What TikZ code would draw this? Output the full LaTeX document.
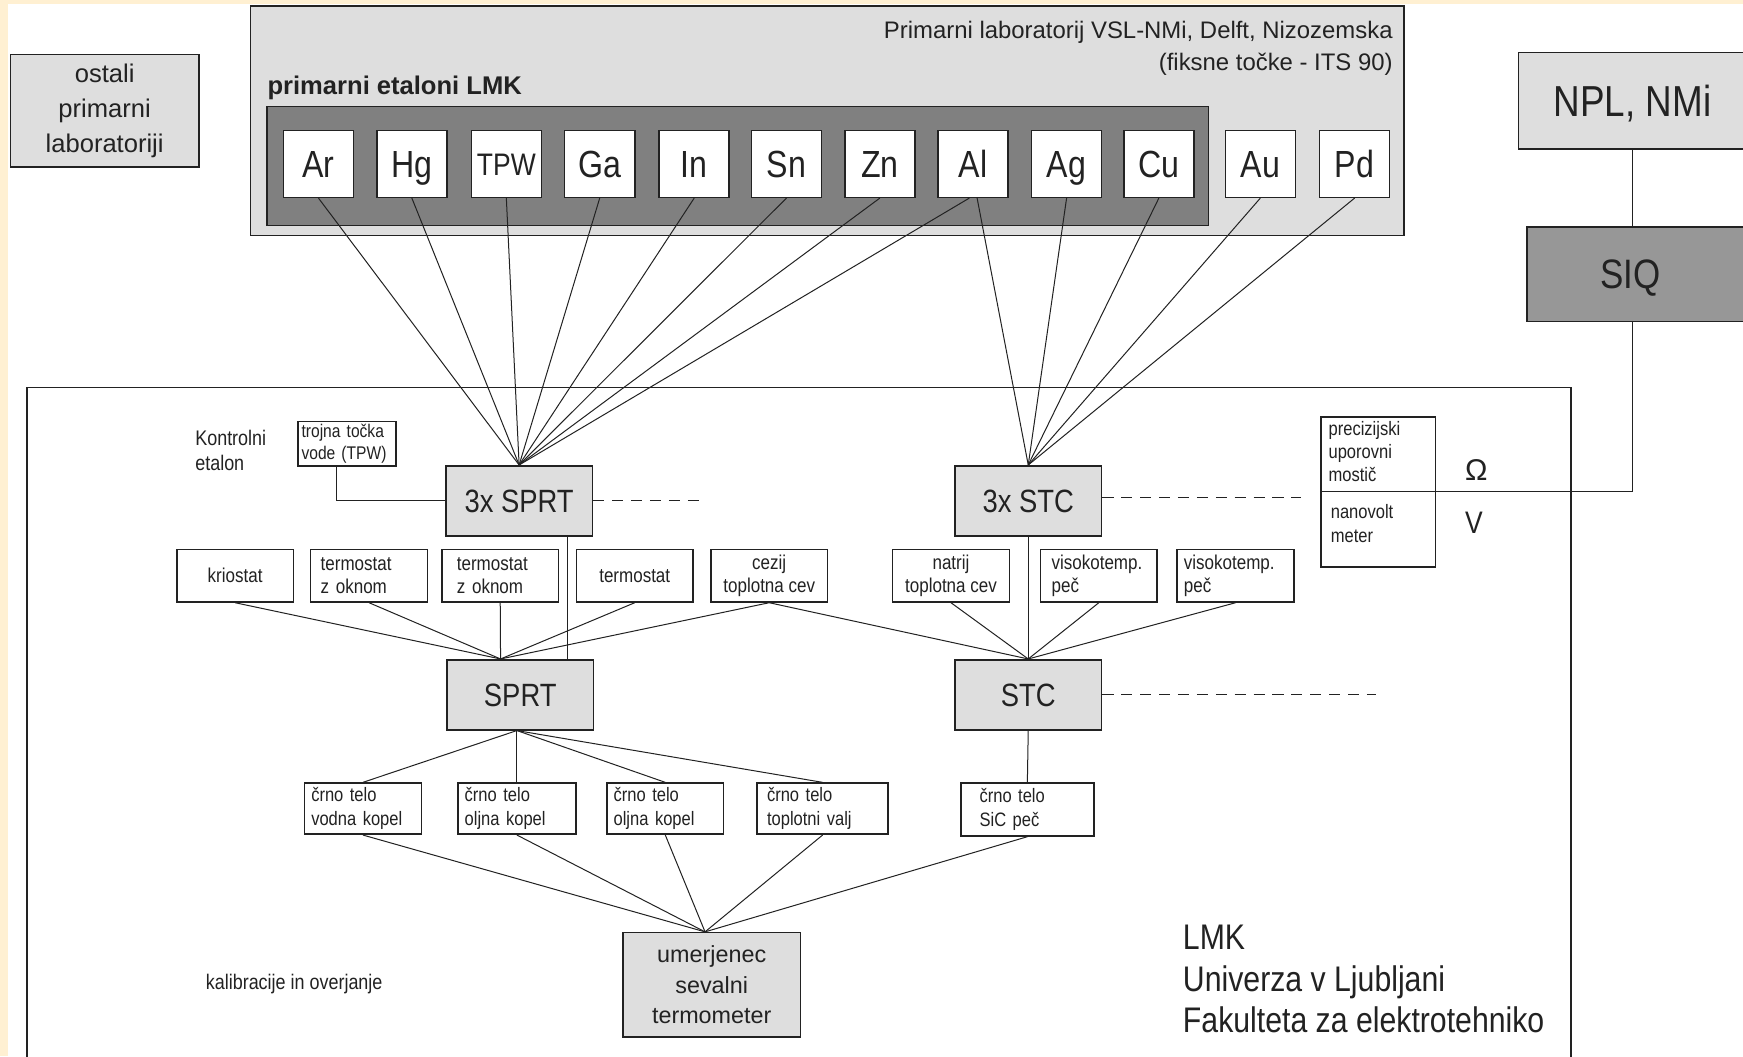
\documentclass[tikz,border=0pt]{standalone}
\usepackage{fontspec}
\setmainfont{Liberation Sans}
\newfontfamily\narrowsans[FakeStretch=0.85]{Liberation Sans}
\usetikzlibrary{calc}

\definecolor{cream}{HTML}{FFF0D2}
\definecolor{boxgrey}{HTML}{DEDEDE}
\definecolor{darkpanel}{HTML}{808080}
\definecolor{siqgrey}{HTML}{979797}
\definecolor{ink}{HTML}{222222}

\begin{document}
\begin{tikzpicture}[x=1pt,y=-1pt,
  every node/.style={inner sep=0pt, text=ink},
  frame/.style={draw=ink, line width=1.4pt, align=center},
  elem/.style={frame, fill=white, minimum width=63pt, minimum height=60pt,
    font=\narrowsans\fontsize{34}{34}\selectfont, text height=24pt, text depth=0pt},
  unit/.style={frame, fill=white, minimum width=105pt, minimum height=47pt,
    font=\narrowsans\fontsize{18}{21}\selectfont},
  body/.style={frame, fill=white, minimum height=46pt,
    font=\narrowsans\fontsize{17.5}{22}\selectfont},
  standard/.style={frame, fill=boxgrey, minimum width=132pt, minimum height=63pt,
    font=\narrowsans\fontsize{29}{29}\selectfont, text height=21pt, text depth=0pt},
  lefttext/.style={text width=#1, align=left},
  wire/.style={draw=ink, line width=0.9pt},
  link/.style={wire, dash pattern=on 10pt off 7pt},
]

% page and cream margin
\clip (0,0) rectangle (1568,950);
\fill[white] (0,0) rectangle (1568,950);
\fill[cream] (0,0) rectangle (7,950);
\fill[cream] (0,0) rectangle (1568,3.5);

% primary laboratory panel
\node[frame, fill=boxgrey, minimum width=1037.5pt, minimum height=206.6pt] (lab) at (744.25,108.7) {};
\node[frame, fill=darkpanel, minimum width=847pt, minimum height=107pt] (panel) at (663.5,149.5) {};
\node[anchor=north east, align=right, font=\fontsize{21.5}{28.5}\selectfont] (labname) at (1253,19) {Primarni laboratorij VSL-NMi, Delft, Nizozemska\\(fiksne točke - ITS 90)};
\node[anchor=north west, font=\bfseries\fontsize{23}{23}\selectfont] (lmkprim) at (240.5,68) {primarni etaloni LMK};

% fixed points
\node[elem] (eAr)  at (286.5,147.5) {Ar};
\node[elem] (eHg)  at (370.5,147.5) {Hg};
\node[elem, font=\narrowsans\fontsize{28}{28}\selectfont, text height=20pt] (eTPW) at (455.5,147.5) {TPW};
\node[elem] (eGa)  at (539.5,147.5) {Ga};
\node[elem] (eIn)  at (624.5,147.5) {In};
\node[elem] (eSn)  at (707.5,147.5) {Sn};
\node[elem] (eZn)  at (791.5,147.5) {Zn};
\node[elem] (eAl)  at (875.5,147.5) {Al};
\node[elem] (eAg)  at (959.5,147.5) {Ag};
\node[elem] (eCu)  at (1042.5,147.5) {Cu};
\node[elem] (eAu)  at (1133.8,147.5) {Au};
\node[elem] (ePd)  at (1218.6,147.5) {Pd};

% other laboratories
\node[frame, fill=boxgrey, minimum width=169.7pt, minimum height=101pt,
  font=\fontsize{23}{31.5}\selectfont] (ostali) at (94.15,99.5) {ostali\\primarni\\laboratoriji};

% national chain
\node[frame, fill=boxgrey, minimum width=205pt, minimum height=86.6pt,
  font=\narrowsans\fontsize{39}{39}\selectfont, text height=28pt, text depth=0pt] (npl) at (1468.5,90.7) {NPL, NMi};
\node[frame, fill=siqgrey, minimum width=198.3pt, minimum height=85.4pt,
  font=\narrowsans\fontsize{37}{37}\selectfont, text height=26.5pt, text depth=0pt] (siq) at (1472.85,246.7) {\hspace*{-12pt}SIQ};

% LMK frame
\node[draw=ink, line width=1.4pt, minimum width=1389pt, minimum height=620pt, anchor=north west] (lmkframe) at (23.4,347.8) {};

\node[anchor=north west, align=left, font=\narrowsans\fontsize{19}{22}\selectfont] (kontrolni) at (175.5,387) {Kontrolni\\etalon};
\node[frame, fill=white, minimum width=88pt, minimum height=40pt, lefttext=82pt,
  font=\narrowsans\fontsize{16.5}{19.5}\selectfont] (tpwv) at (312.3,399) {trojna točka\\vode (TPW)};

\node[standard] (sprtA) at (467,450.5) {3x SPRT};
\node[standard] (stcA)  at (925,450.5) {3x STC};

% measuring instruments
\node[frame, fill=white, minimum width=103pt, minimum height=135pt] (bridge) at (1240,442.5) {};
\node[anchor=north west, align=left, font=\narrowsans\fontsize{17.5}{20.5}\selectfont] (bridgeR) at (1195,379) {precizijski\\uporovni\\mostič};
\node[anchor=north west, align=left, font=\narrowsans\fontsize{17.5}{21}\selectfont] (bridgeV) at (1197,454) {nanovolt\\meter};
\node[font=\fontsize{27}{27}\selectfont] (ohm) at (1328,423) {Ω};
\node[font=\narrowsans\fontsize{28}{28}\selectfont] (volt) at (1326,470) {V};

% comparison sources
\node[unit] (kriostat) at (211.5,518) {kriostat};
\node[unit, lefttext=87pt] (termA) at (332,518) {termostat\\z oknom};
\node[unit, lefttext=78pt] (termB) at (450,518) {termostat\\z oknom};
\node[unit] (termC) at (571,518) {termostat};
\node[unit] (cezij) at (692,518) {cezij\\toplotna cev};
\node[unit] (natrij) at (855.5,518) {natrij\\toplotna cev};
\node[unit, lefttext=85pt] (pecA) at (988.5,518) {visokotemp.\\peč};
\node[unit, lefttext=93pt] (pecB) at (1111.5,518) {visokotemp.\\peč};

\node[standard] (sprt) at (468,625) {SPRT};
\node[standard] (stc)  at (925,625) {STC};

% black bodies
\node[body, minimum width=105pt, lefttext=93pt] (bbWater) at (326.5,727.5) {črno telo\\vodna kopel};
\node[body, minimum width=106pt, lefttext=94pt] (bbOilA) at (465,727.5) {črno telo\\oljna kopel};
\node[body, minimum width=105pt, lefttext=93pt] (bbOilB) at (598.5,727.5) {črno telo\\oljna kopel};
\node[body, minimum width=118pt, lefttext=100pt] (bbRoll) at (740,727.5) {črno telo\\toplotni valj};
\node[body, minimum width=119.5pt, minimum height=47.4pt, lefttext=86pt] (bbSiC) at (924.2,728.3) {črno telo\\SiC peč};

\node[frame, fill=boxgrey, minimum width=159.5pt, minimum height=94pt,
  font=\fontsize{21}{27.5}\selectfont] (um) at (640.25,886) {umerjenec\\sevalni\\termometer};

\node[anchor=west, font=\narrowsans\fontsize{19}{19}\selectfont] (kalib) at (185,885) {kalibracije in overjanje};
\node[anchor=north west, align=left, font=\narrowsans\fontsize{32}{37.5}\selectfont] (lmk) at (1064,832) {LMK\\Univerza v Ljubljani\\Fakulteta za elektrotehniko};

% connection points
\coordinate (sprtIn)   at ($(sprt.north west)+(49,0)$);
\coordinate (sprtOut)  at ($(sprt.south)+(-3,0)$);
\coordinate (umIn)     at ($(um.north)+(-6,0)$);
\coordinate (sprtDown) at ($(sprtA.south east)+(-23,0)$);
\coordinate (tpwDown)  at ($(tpwv.south west)!0.39!(tpwv.south east)$);
\coordinate (sprtAend) at ($(sprtA.east)+(96,0)$);
\coordinate (stcAbeg)  at ($(stcA.east)+(0,-3)$);
\coordinate (stcAend)  at ($(stcA.east)+(179,-3)$);
\coordinate (stcEnd)   at ($(stc.east)+(246,0)$);

% fixed points to the working standards
\foreach \e in {eAr,eHg,eTPW,eGa,eIn,eSn,eZn}
  \draw[wire] (\e.south) -- (sprtA.north);
\draw[wire] ($(eAl.south)+(-3.5,0)$) -- (sprtA.north);
\draw[wire] ($(eAl.south)+(3.5,0)$) -- (stcA.north);
\foreach \e in {eAg,eCu,eAu,ePd}
  \draw[wire] (\e.south) -- (stcA.north);

% control standard
\draw[wire] (tpwDown) |- (sprtA.west);

% national chain to the bridge
\draw[wire] (npl.south) -- (npl.south |- siq.north);
\draw[wire] (npl.south |- siq.south) |- (bridge.west);

% dashed links to instruments
\draw[link] (sprtA.east) -- (sprtAend);
\draw[link] (stcAbeg) -- (stcAend);
\draw[link] (stc.east) -- (stcEnd);

% comparison sources to the transfer standards
\foreach \u in {kriostat,termA,termB,termC,cezij}
  \draw[wire] (\u.south) -- (sprtIn);
\draw[wire] (sprtDown) -- (sprtDown |- sprt.north);
\foreach \u in {cezij,natrij,pecA,pecB}
  \draw[wire] (\u.south) -- (stc.north);
\draw[wire] (stcA.south) -- (stc.north);

% transfer standards to black bodies
\foreach \b in {bbWater,bbOilA,bbOilB,bbRoll}
  \draw[wire] (sprtOut) -- (\b.north);
\draw[wire] (stc.south) -- (bbSiC.north);
\foreach \b in {bbWater,bbOilA,bbOilB,bbRoll,bbSiC}
  \draw[wire] (\b.south) -- (umIn);

\end{tikzpicture}
\end{document}
